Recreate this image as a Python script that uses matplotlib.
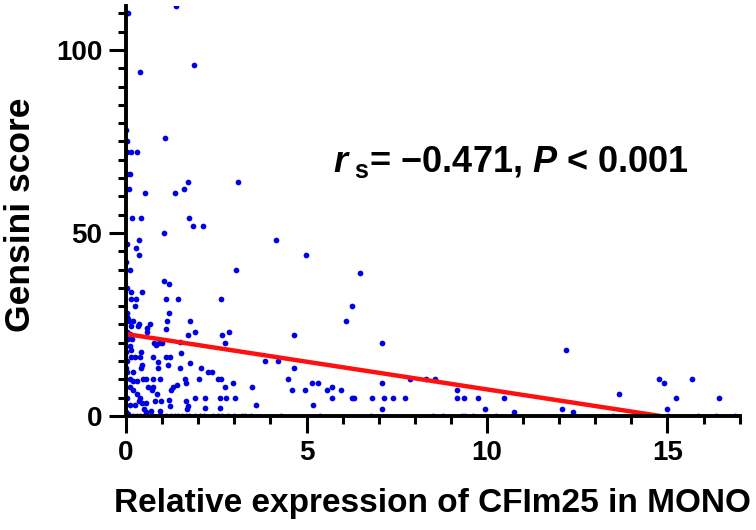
from matplotlib import pyplot as plt
from matplotlib.ticker import MultipleLocator

# relative expression of CFIm25 (x) vs Gensini score (y)
expr = [1.38, 0.05, 1.88, 0.39, 0.0, 1.07, 0.04, 0.04, 0.13, 0.31, 0.04, 0.11, 1.71, 3.09, 0.09, 1.61, 0.53, 1.37,
        0.17, 0.42, 1.75, 1.86, 2.12, 1.04, 0.36, 0.02, 0.28, 0.35, 0.0, 0.11, 1.04, 1.2, 0.04, 0.13, 0.44, 0.13,
        0.27, 1.11, 1.44, 2.62, 0.25,
        4.16, 4.99, 3.05, 6.48, 6.25, 6.09, 2.66, 2.86, 2.75, 4.66, 3.85, 4.2, 4.66, 4.5, 2.96, 2.73, 3.5, 5.14,
        5.32, 4.6, 4.95, 5.58, 5.95, 5.72, 2.76, 3.03, 5.72, 6.25, 6.31, 3.59, 5.18, 2.63,
        2.82, 3.0, 3.2, 3.3, 3.46, 4.3, 5.37,
        7.08, 12.19, 7.87, 8.32, 8.56, 7.1, 9.17, 14.77, 14.89, 15.68, 13.66, 6.81, 7.14, 7.4, 7.73, 9.17, 9.37,
        9.74, 10.46, 15.24, 16.43, 7.1, 9.94, 12.08, 14.98, 10.76, 12.39,
        6.8, 8.51, 8.77, 9.32, 9.39, 9.62, 10.24, 13.5, 14.16, 14.49, 15.02, 15.85, 16.34, 16.87,
        1.19, 0.02, 0.04, 0.06, 0.09, 0.19, 0.35, 0.66, 1.13, 1.77, 0.15, 0.33, 0.57, 0.57, 0.04, 0.12, 0.16, 0.1,
        0.14, 0.9, 1.0, 0.78, 0.84, 1.12, 1.72, 1.9, 1.5, 0.42, 0.0, 0.02, 0.0, 0.75, 0.89, 1.12, 1.21, 1.53, 0.15,
        0.24, 0.38, 0.44, 0.41, 0.89, 1.49, 1.16, 1.76, 2.09, 2.27, 2.39, 2.55, 2.02, 0.1, 0.2, 0.3, 0.47, 0.56,
        0.75, 0.93, 1.62, 1.67, 1.25, 1.3, 1.4, 0.1, 0.2, 0.3, 0.4, 0.35, 0.45, 0.55, 0.73, 0.85, 0.6, 0.75, 0.98,
        0.81, 1.18, 1.23, 1.65, 1.7, 1.72, 1.9, 2.18, 2.2, 2.6, 2.6, 0.5, 0.55, 0.7, 0.95, 0.0, 0.05, 0.1, 0.02,
        0.03, 0.05, 0.2, 0.25,
        0.05, 0.2, 0.3, 0.4, 0.5, 0.6, 0.75, 0.9, 1.0, 1.1, 1.25, 1.35, 1.45, 1.55, 1.65, 1.75, 1.9, 2.05, 2.15,
        2.4, 2.55, 2.65]
gensini = [112, 110, 96, 94, 78, 76, 75, 72, 72, 72, 66, 66, 64, 64, 62, 62, 61, 61,
           54, 54, 54, 52, 52, 50, 48, 47, 46, 44, 42, 40, 37, 36, 35, 34, 34, 32,
           32, 32, 32, 32, 30,
           48, 44, 40, 39, 30, 26, 22, 23, 20, 22, 15, 15, 13, 10, 9, 8, 8, 9,
           9, 7, 7, 7, 7, 8, 5, 5, 5, 5, 5, 3, 3, 10,
           0, 0, 0, 0, 0, 0, 0,
           20, 18, 10, 10, 10, 9, 7, 10, 9, 10, 6, 5, 5, 5, 5, 5, 5,
           5, 5, 5, 5, 2, 2, 2, 2, 1, 1,
           0, 0, 0, 0, 0, 0, 0, 0, 0, 0, 0, 0, 0, 0,
           28, 28, 27, 26.5, 26, 26, 25, 25, 26, 26, 24.5, 24.5, 24, 23, 23, 22.5, 21, 19,
           18, 20, 20, 20, 19.5, 23.7, 22, 23, 20.3, 17.6, 17.6, 15, 13, 16, 14.8, 16, 16, 17.3, 16,
           16, 16, 14, 13, 13, 13, 14, 14.4, 13, 12, 12, 10, 10, 10, 9.5, 9.5, 10, 10,
           10, 10, 10, 9, 7, 8, 8.5, 8, 7, 6, 5, 4, 3.5, 3.5, 7, 6, 8, 8, 4,
           4, 4.4, 2.7, 4, 2, 2.6, 4.8, 4.8, 2.2, 4.8, 2.2, 2, 1.1, 1.5, 1.5, 1, 0.5, 3, 5,
           12, 21, 12, 3,
           0, 0, 0, 0, 0, 0, 0, 0, 0, 0, 0, 0, 0, 0, 0, 0, 0, 0, 0,
           0, 0, 0]

# regression line end points
fit_x = [0, 14.8]
fit_y = [22.4, 0]

plt.rcParams['font.family'] = ['Liberation Sans', 'DejaVu Sans']
plt.rcParams['mathtext.fontset'] = 'custom'
plt.rcParams['mathtext.it'] = 'Liberation Sans:italic:bold'
plt.rcParams['mathtext.bf'] = 'Liberation Sans:bold'
plt.rcParams['mathtext.rm'] = 'Liberation Sans:bold'

fig = plt.figure(figsize=(7.56, 5.30), dpi=100)
ax = fig.add_axes([0.1667, 0.2151, 0.8117, 0.7736])

ax.scatter(expr, gensini, s=17, color='#0000e6', linewidths=0, zorder=1)
ax.plot(fit_x, fit_y, color='#ff1010', lw=3.2, zorder=2, solid_capstyle='butt')

ax.set_xlim(0, 17)
ax.set_ylim(0, 112)
ax.xaxis.set_major_locator(MultipleLocator(5))
ax.xaxis.set_minor_locator(MultipleLocator(1))
ax.yaxis.set_major_locator(MultipleLocator(50))
ax.yaxis.set_minor_locator(MultipleLocator(5))

for side in ['top', 'right']:
    ax.spines[side].set_visible(False)
for side in ['left', 'bottom']:
    ax.spines[side].set_linewidth(2.8)
    ax.spines[side].set_zorder(3)

ax.tick_params(which='major', length=12, width=2.2, labelsize=20, pad=5)
ax.tick_params(which='minor', length=6, width=2.2)
for lab in ax.get_xticklabels() + ax.get_yticklabels():
    lab.set_fontweight('bold')

ax.set_xlabel('Relative expression of CFIm25 in MONO', fontsize=24, fontweight='bold')
ax.set_ylabel('Gensini score', fontsize=25.5, fontweight='bold')
ax.xaxis.set_label_coords(0.5, -0.175)
ax.yaxis.set_label_coords(-0.145, 0.49)

ax.text(0.338, 0.62, r'$\mathit{r}_{\ \mathbf{s}}$= −0.471, $\mathit{P}$ < 0.001',
        transform=ax.transAxes, fontsize=26, fontweight='bold', va='center')

plt.savefig('out.png', dpi=100)
